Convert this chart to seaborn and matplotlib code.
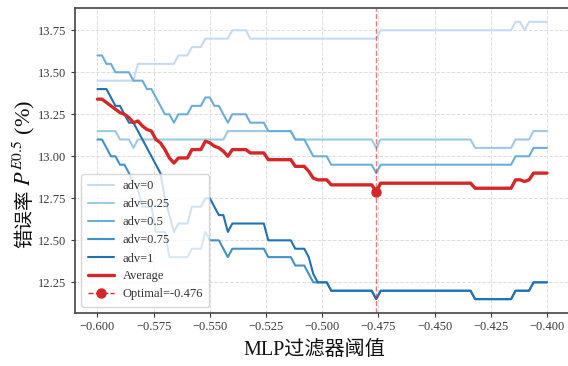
import matplotlib
matplotlib.use("Agg")
import matplotlib.pyplot as plt
import seaborn as sns
import pandas as pd

# ---- data (vertices) ----
adv0_x = [-0.600, -0.584, -0.582, -0.566, -0.564, -0.560, -0.558, -0.554, -0.552, -0.542,
          -0.540, -0.534, -0.532, -0.476, -0.474, -0.416, -0.414, -0.412, -0.410, -0.408, -0.400]
adv0_y = [13.45, 13.45, 13.55, 13.55, 13.60, 13.60, 13.65, 13.65, 13.70, 13.70,
          13.75, 13.75, 13.70, 13.70, 13.75, 13.75, 13.80, 13.80, 13.75, 13.80, 13.80]

adv025_x = [-0.600, -0.592, -0.590, -0.586, -0.584, -0.582, -0.544, -0.542, -0.514, -0.512,
            -0.478, -0.476, -0.474, -0.434, -0.432, -0.416, -0.414, -0.408, -0.406, -0.400]
adv025_y = [13.15, 13.15, 13.10, 13.10, 13.05, 13.10, 13.10, 13.15, 13.15, 13.10,
            13.10, 13.05, 13.10, 13.10, 13.05, 13.05, 13.10, 13.10, 13.15, 13.15]

adv05_x = [-0.600, -0.598, -0.596, -0.594, -0.592, -0.586, -0.584, -0.580, -0.578, -0.576,
           -0.574, -0.572, -0.570, -0.568, -0.566, -0.564, -0.560, -0.558, -0.554, -0.552,
           -0.550, -0.548, -0.546, -0.544, -0.542, -0.540, -0.534, -0.532, -0.526, -0.524,
           -0.514, -0.512, -0.508, -0.506, -0.504, -0.498, -0.496, -0.478, -0.476, -0.474,
           -0.416, -0.414, -0.408, -0.406, -0.400]
adv05_y = [13.60, 13.60, 13.55, 13.55, 13.50, 13.50, 13.45, 13.45, 13.40, 13.40,
           13.35, 13.30, 13.25, 13.25, 13.20, 13.25, 13.25, 13.30, 13.30, 13.35,
           13.35, 13.30, 13.30, 13.25, 13.20, 13.25, 13.25, 13.20, 13.20, 13.15,
           13.15, 13.10, 13.10, 13.05, 13.00, 13.00, 12.95, 12.95, 12.90, 12.95,
           12.95, 13.00, 13.00, 13.05, 13.05]

adv075_x = [-0.600, -0.598, -0.596, -0.594, -0.592, -0.590, -0.588, -0.586, -0.584, -0.582,
            -0.580, -0.576, -0.574, -0.570, -0.568, -0.560, -0.558, -0.554, -0.552, -0.550,
            -0.546, -0.544, -0.542, -0.540, -0.526, -0.524, -0.514, -0.512, -0.508, -0.506,
            -0.504, -0.498, -0.496, -0.478, -0.476, -0.474, -0.434, -0.432, -0.416, -0.414,
            -0.408, -0.406, -0.400]
adv075_y = [13.10, 13.10, 13.05, 13.00, 13.00, 12.95, 12.95, 12.90, 12.85, 12.80,
            12.70, 12.70, 12.55, 12.55, 12.40, 12.40, 12.45, 12.45, 12.55, 12.50,
            12.50, 12.45, 12.40, 12.45, 12.45, 12.40, 12.40, 12.35, 12.35, 12.30,
            12.25, 12.25, 12.20, 12.20, 12.15, 12.20, 12.20, 12.15, 12.15, 12.20,
            12.20, 12.25, 12.25]

adv1_x = [-0.600, -0.596, -0.594, -0.592, -0.590, -0.588, -0.586, -0.584, -0.582, -0.580,
          -0.578, -0.576, -0.574, -0.572, -0.570, -0.568, -0.566, -0.564, -0.560, -0.558,
          -0.554, -0.552, -0.550, -0.548, -0.546, -0.544, -0.542, -0.540, -0.526, -0.524,
          -0.514, -0.512, -0.508, -0.506, -0.504, -0.502, -0.498, -0.496, -0.478, -0.476,
          -0.474, -0.434, -0.432, -0.416, -0.414, -0.408, -0.406, -0.400]
adv1_y = [13.40, 13.40, 13.35, 13.30, 13.30, 13.25, 13.20, 13.20, 13.15, 13.10,
          13.05, 13.00, 12.95, 12.90, 12.75, 12.65, 12.55, 12.60, 12.60, 12.70,
          12.70, 12.75, 12.75, 12.70, 12.65, 12.65, 12.55, 12.60, 12.60, 12.50,
          12.50, 12.45, 12.45, 12.40, 12.30, 12.25, 12.25, 12.20, 12.20, 12.15,
          12.20, 12.20, 12.15, 12.15, 12.20, 12.20, 12.25, 12.25]

avg_x = [-0.600, -0.598, -0.596, -0.594, -0.592, -0.590, -0.588, -0.586, -0.584, -0.582,
         -0.580, -0.578, -0.576, -0.574, -0.572, -0.570, -0.568, -0.566, -0.564, -0.560,
         -0.558, -0.554, -0.552, -0.550, -0.548, -0.546, -0.544, -0.542, -0.540, -0.534,
         -0.532, -0.526, -0.524, -0.514, -0.512, -0.508, -0.506, -0.504, -0.502, -0.498,
         -0.496, -0.478, -0.476, -0.474, -0.434, -0.432, -0.416, -0.414, -0.412, -0.410,
         -0.408, -0.406, -0.400]
avg_y = [13.34, 13.34, 13.32, 13.30, 13.28, 13.26, 13.25, 13.23, 13.20, 13.21,
         13.18, 13.16, 13.15, 13.10, 13.08, 13.04, 12.99, 12.96, 12.99, 12.99,
         13.04, 13.04, 13.09, 13.08, 13.06, 13.05, 13.03, 13.00, 13.04, 13.04,
         13.02, 13.02, 12.98, 12.98, 12.94, 12.94, 12.91, 12.87, 12.86, 12.86,
         12.83, 12.83, 12.79, 12.84, 12.84, 12.81, 12.81, 12.86, 12.86, 12.85,
         12.86, 12.90, 12.90]

opt_x = -0.476
opt_y = 12.79

series_labels = ["adv=0", "adv=0.25", "adv=0.5", "adv=0.75", "adv=1"]
series_x = [adv0_x, adv025_x, adv05_x, adv075_x, adv1_x]
series_y = [adv0_y, adv025_y, adv05_y, adv075_y, adv1_y]
x_ticks = [-0.600, -0.575, -0.550, -0.525, -0.500, -0.475, -0.450, -0.425, -0.400]
y_ticks = [12.25, 12.50, 12.75, 13.00, 13.25, 13.50, 13.75]
xlabel_text = "MLP过滤器阈值"
ylabel_cjk = "错误率"
ylabel_math = "$P^{E0.5}$ (%)"

# ---- style ----
sns.set_theme(style="whitegrid")
plt.rcParams['font.family'] = ['Liberation Serif', 'Noto Sans CJK SC', 'DejaVu Sans']
plt.rcParams['mathtext.fontset'] = 'stix'
plt.rcParams['axes.unicode_minus'] = True

blues = ['#c6dbef', '#9ecae1', '#6baed6', '#4292c6', '#2171b5']
red = '#d62728'

fig = plt.figure(figsize=(5.68, 3.66), dpi=100)
ax = fig.add_axes([75 / 568, 1 - 313 / 366, 494.5 / 568, 305 / 366])

for lab, xs, ys, c in zip(series_labels, series_x, series_y, blues):
    df = pd.DataFrame({"x": xs, "y": ys})
    sns.lineplot(data=df, x="x", y="y", ax=ax, color=c, linewidth=1.5,
                 label=lab, estimator=None, sort=False)

df_avg = pd.DataFrame({"x": avg_x, "y": avg_y})
sns.lineplot(data=df_avg, x="x", y="y", ax=ax, color=red, linewidth=2.4,
             label="Average", estimator=None, sort=False)

ax.axvline(opt_x, color=red, linestyle='--', linewidth=1.0, alpha=0.6)
ax.plot([opt_x], [opt_y], marker='o', markersize=6.5, color=red, linestyle='--',
        linewidth=1.0, label=f"Optimal={opt_x}")

ax.set_xlim(-0.61, -0.39)
ax.set_ylim(12.0675, 13.8825)
ax.set_xticks(x_ticks)
ax.set_yticks(y_ticks)
ax.set_xticklabels([f"{v:.3f}".replace('-', '\u2212') for v in x_ticks])
ax.set_yticklabels([f"{v:.2f}" for v in y_ticks])
ax.tick_params(axis='both', labelsize=9, colors='#3a3a3a', length=3, width=0.8,
               bottom=True, left=True, direction='out', pad=3)

ax.grid(True, linestyle='--', color='#dddddd', linewidth=0.7)
ax.set_facecolor('white')
for side in ['left', 'bottom', 'top', 'right']:
    ax.spines[side].set_visible(True)
    ax.spines[side].set_color('#444444')
    ax.spines[side].set_linewidth(1.2)

ax.set_xlabel(xlabel_text, fontsize=14.5, color='#111111')
ax.xaxis.set_label_coords((314 - 75) / 494.5, -(350 - 313) / 305, transform=ax.transAxes)
ax.xaxis.label.set_verticalalignment('center')
ax.set_ylabel("")

# y label built from two pieces so the CJK part gets a CJK font
renderer = fig.canvas.get_renderer()
lab_x = 25 / 568
lab_y0 = 1 - 248 / 366
t1 = fig.text(lab_x, lab_y0, ylabel_cjk, rotation=90, ha='center', va='bottom',
              family=['Noto Sans CJK SC'], fontsize=14, color='#111111')
bb = t1.get_window_extent(renderer)
h = bb.height / fig.bbox.height
fig.text(lab_x - 1 / 568, lab_y0 + h + 4 / 366, ylabel_math, rotation=90, ha='center',
         va='bottom', family=['Liberation Serif'], fontsize=16, color='#111111')

leg = ax.legend(loc='lower left', fontsize=9, frameon=True, framealpha=0.8,
                edgecolor='#cccccc', handlelength=2.1, labelspacing=0.48,
                borderpad=0.5, handletextpad=0.7)
for t in leg.get_texts():
    t.set_color('#333333')

fig.savefig("out.png", dpi=100)
